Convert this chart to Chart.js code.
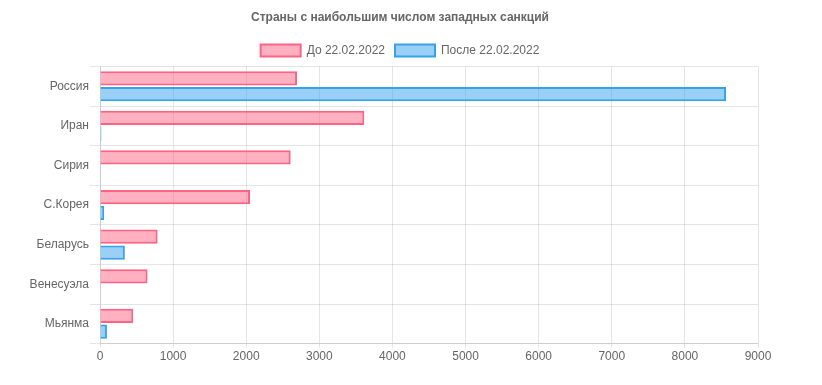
<!DOCTYPE html>
<html>
<head>
<meta charset="utf-8">
<script src="https://cdn.jsdelivr.net/npm/chart.js@4/dist/chart.umd.min.js"></script>
<style>
  html, body { margin: 0; padding: 0; background: #fff; }
  .chart-outer { width: 822px; height: 385px; }
</style>
</head>
<body>
<div class="chart-outer">
  <canvas id="chart"></canvas>
</div>
<script>
const countries = ['Россия', 'Иран', 'Сирия', 'С.Корея', 'Беларусь', 'Венесуэла', 'Мьянма'];
const beforeValues = [2695, 3616, 2608, 2052, 788, 651, 455];
const afterValues = [8563, 20, 10, 55, 340, 0, 95];
const xTicks = [0, 1000, 2000, 3000, 4000, 5000, 6000, 7000, 8000, 9000];

Chart.defaults.font.family = 'Arial, "Liberation Sans", Helvetica, sans-serif';
Chart.defaults.font.size = 12;
Chart.defaults.color = '#666';

new Chart(document.getElementById('chart'), {
  type: 'bar',
  data: {
    labels: countries,
    datasets: [
      {
        label: 'До 22.02.2022',
        data: beforeValues,
        backgroundColor: 'rgba(255, 99, 132, 0.5)',
        borderColor: 'rgb(255, 99, 132)',
        borderWidth: 2
      },
      {
        label: 'После 22.02.2022',
        data: afterValues,
        backgroundColor: 'rgba(54, 162, 235, 0.5)',
        borderColor: 'rgb(54, 162, 235)',
        borderWidth: 2
      }
    ]
  },
  options: {
    indexAxis: 'y',
    responsive: true,
    maintainAspectRatio: false,
    animation: false,
    layout: { padding: { left: 42, right: 64, top: 0, bottom: 19 } },
    plugins: {
      title: {
        display: true,
        text: 'Страны с наибольшим числом западных санкций',
        font: { weight: 'bold', size: 12 },
        padding: { top: 10, bottom: 10 }
      },
      legend: {
        labels: { boxWidth: 40, boxHeight: 12 }
      },
      tooltip: { enabled: false }
    },
    scales: {
      x: {
        min: 0,
        max: 9000,
        afterBuildTicks: axis => { axis.ticks = xTicks.map(v => ({ value: v })); },
        grid: { color: 'rgba(0,0,0,0.1)', tickLength: 4 },
        ticks: { color: '#666', padding: 2, callback: v => String(v) }
      },
      y: {
        afterFit: scale => {
          scale.width = 58;
          // let the labels run past the narrowed axis box
          scale._computeLabelArea = () => undefined;
        },
        grid: { color: 'rgba(0,0,0,0.1)', offset: true, tickLength: 10 },
        ticks: { color: '#666', padding: 1 }
      }
    }
  }
});
</script>
</body>
</html>
